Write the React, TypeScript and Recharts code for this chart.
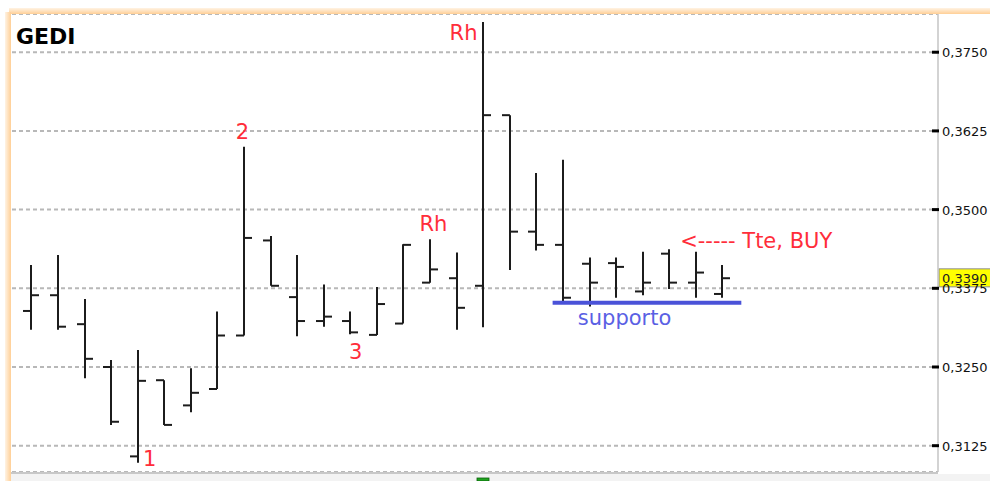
import {
  Bar,
  CartesianGrid,
  ComposedChart,
  ReferenceDot,
  ReferenceLine,
  XAxis,
  YAxis,
} from "recharts";

// GEDI, barre OHLC giornaliere
const bars = [1, 2, 3, 4, 5, 6, 7, 8, 9, 10, 11, 12, 13, 14, 15, 16, 17, 18, 19, 20, 21, 22, 23, 24, 25, 26, 27];
const opens = [0.3339, 0.3364, 0.3318, 0.325, 0.3108, 0.3229, 0.3189, 0.3215, 0.33, 0.3451, 0.3361, 0.3323, 0.3323, 0.3301, 0.3319, 0.3384, 0.3391, 0.3379, 0.365, 0.3465, 0.3444, 0.3414, 0.3415, 0.337, 0.343, 0.3384, 0.3366];
const highs = [0.3412, 0.3428, 0.3358, 0.3261, 0.3277, 0.3229, 0.3248, 0.3338, 0.36, 0.3458, 0.3428, 0.3381, 0.3338, 0.3377, 0.3445, 0.3453, 0.3432, 0.3798, 0.365, 0.3558, 0.3579, 0.3424, 0.3424, 0.3433, 0.3437, 0.3433, 0.3412];
const lows = [0.3309, 0.3309, 0.3232, 0.3158, 0.3098, 0.3158, 0.3178, 0.3215, 0.33, 0.3379, 0.3299, 0.3314, 0.3302, 0.3301, 0.3319, 0.3384, 0.3309, 0.3313, 0.3404, 0.3435, 0.3354, 0.3346, 0.336, 0.3364, 0.3374, 0.336, 0.336];
const closes = [0.3364, 0.3314, 0.3263, 0.3163, 0.3228, 0.3158, 0.3209, 0.33, 0.3455, 0.3379, 0.3323, 0.333, 0.3305, 0.335, 0.3444, 0.3405, 0.3344, 0.365, 0.3465, 0.3444, 0.336, 0.3384, 0.3409, 0.3384, 0.3384, 0.34, 0.3391];

const yTicks = [0.3125, 0.325, 0.3375, 0.35, 0.3625, 0.375];
const lastPrice = 0.339;
const support = { from: 20.6, to: 27.7, value: 0.3352 };

const data = bars.map((i, k) => ({
  i,
  open: opens[k],
  high: highs[k],
  low: lows[k],
  close: closes[k],
  range: [lows[k], highs[k]],
}));

const RED = "#ff2d3a";
const BLUE = "#4a52d8";
const FONT = "DejaVu Sans, Verdana, sans-serif";

function OhlcShape(props: any) {
  const { x, y, width, height, payload } = props;
  if (height == null || !payload) return null;
  const cx = Math.round(x + width / 2);
  const k = height / (payload.high - payload.low);
  const yo = y + (payload.high - payload.open) * k;
  const yc = y + (payload.high - payload.close) * k;
  return (
    <g stroke="#1c1c1c" strokeWidth={2}>
      <line x1={cx} x2={cx} y1={y} y2={y + height} />
      <line x1={cx - 8} x2={cx} y1={yo} y2={yo} />
      <line x1={cx} x2={cx + 8} y1={yc} y2={yc} />
    </g>
  );
}

function PriceTick(props: any) {
  const { x, y, payload } = props;
  return (
    <g>
      <line x1={x - 6} x2={x + 1} y1={y} y2={y} stroke="#000" strokeWidth={3} />
      <text x={x + 4} y={y} dy={5} fill="#111" fontSize={13} fontFamily={FONT}>
        {payload.value.toFixed(4).replace(".", ",")}
      </text>
    </g>
  );
}

// etichetta di testo agganciata a un punto del grafico
const note =
  (text: string, color: string, dx: number, dy: number, anchor: string) =>
  (p: any) => {
    const vb = p.viewBox || {};
    const cx = vb.x + (vb.width || 0) / 2;
    const cy = vb.y + (vb.height || 0) / 2;
    return (
      <text x={cx + dx} y={cy + dy} fill={color} fontSize={21} fontFamily={FONT} textAnchor={anchor}>
        {text}
      </text>
    );
  };

function LastPriceLabel(p: any) {
  const vb = p.viewBox;
  const x = vb.x + vb.width + 1;
  return (
    <g>
      <rect x={x} y={vb.y - 10} width={52} height={18} fill="#ffff00" stroke="#8a8a8a" />
      <text x={x + 3} y={vb.y + 4} fill="#222" fontSize={13} fontFamily={FONT}>
        0,3390
      </text>
    </g>
  );
}

export default function App() {
  return (
    <div style={{ position: "absolute", left: 0, top: 0, width: 990, height: 481, background: "#fff", overflow: "hidden" }}>
      <ComposedChart width={990} height={481} data={data} margin={{ top: 14, right: 0, left: 12, bottom: 9 }}>
        <CartesianGrid vertical={false} stroke="#b8b8b8" strokeWidth={2} strokeDasharray="4 3" />
        <XAxis dataKey="i" type="number" domain={[0.259, 35.1]} allowDataOverflow hide />
        <YAxis
          orientation="right"
          width={52}
          domain={[0.30832, 0.38107]}
          allowDataOverflow
          ticks={yTicks}
          interval={0}
          tickSize={0}
          tickMargin={0}
          tick={PriceTick}
          axisLine={{ stroke: "#c4c4c4", strokeWidth: 1.5 }}
          tickLine={false}
        />
        <Bar dataKey="range" barSize={16} shape={OhlcShape} isAnimationActive={false} />
        <ReferenceLine
          segment={[
            { x: support.from, y: support.value },
            { x: support.to, y: support.value },
          ]}
          stroke={BLUE}
          strokeWidth={4}
        />
        <ReferenceLine y={lastPrice} stroke="none" ifOverflow="visible" label={LastPriceLabel} />
        <ReferenceDot x={5} y={lows[4]} r={0} stroke="none" label={note("1", RED, 5, 3, "start")} />
        <ReferenceDot x={9} y={highs[8]} r={0} stroke="none" label={note("2", RED, -2, -8, "middle")} />
        <ReferenceDot x={13} y={lows[12]} r={0} stroke="none" label={note("3", RED, 5, 25, "middle")} />
        <ReferenceDot x={16} y={highs[15]} r={0} stroke="none" label={note("Rh", RED, 3, -8, "middle")} />
        <ReferenceDot x={18} y={highs[17]} r={0} stroke="none" label={note("Rh", RED, -6, 18, "end")} />
        <ReferenceDot x={26} y={highs[25]} r={0} stroke="none" label={note("<----- Tte, BUY", RED, -16, -4, "start")} />
        <ReferenceDot x={22} y={support.value} r={0} stroke="none" label={note("supporto", "#5a60e4", -12, 22, "start")} />
      </ComposedChart>
      <svg width={990} height={481} style={{ position: "absolute", left: 0, top: 0, pointerEvents: "none" }}>
        <defs>
          <linearGradient id="frameTop" x1="0" y1="0" x2="0" y2="1">
            <stop offset="0%" stopColor="#fff3e4" />
            <stop offset="100%" stopColor="#ffcf96" />
          </linearGradient>
          <linearGradient id="frameLeft" x1="0" y1="0" x2="1" y2="0">
            <stop offset="0%" stopColor="#fff3e4" />
            <stop offset="100%" stopColor="#ffcf96" />
          </linearGradient>
        </defs>
        <rect x={9} y={8} width={981} height={6} fill="url(#frameTop)" />
        <rect x={5} y={12} width={6} height={469} fill="url(#frameLeft)" />
        <rect x={11} y={472} width={927} height={2} fill="#c8c8c8" />
        <rect x={11} y={474} width={979} height={7} fill="#f3f3f3" />
        <rect x={477} y={478} width={12} height={3} fill="#1fa51f" stroke="#0b600b" strokeWidth={0.8} />
        <text x={16} y={44} fontSize={22} fontWeight="bold" fontFamily={FONT} fill="#000">
          GEDI
        </text>
      </svg>
    </div>
  );
}
